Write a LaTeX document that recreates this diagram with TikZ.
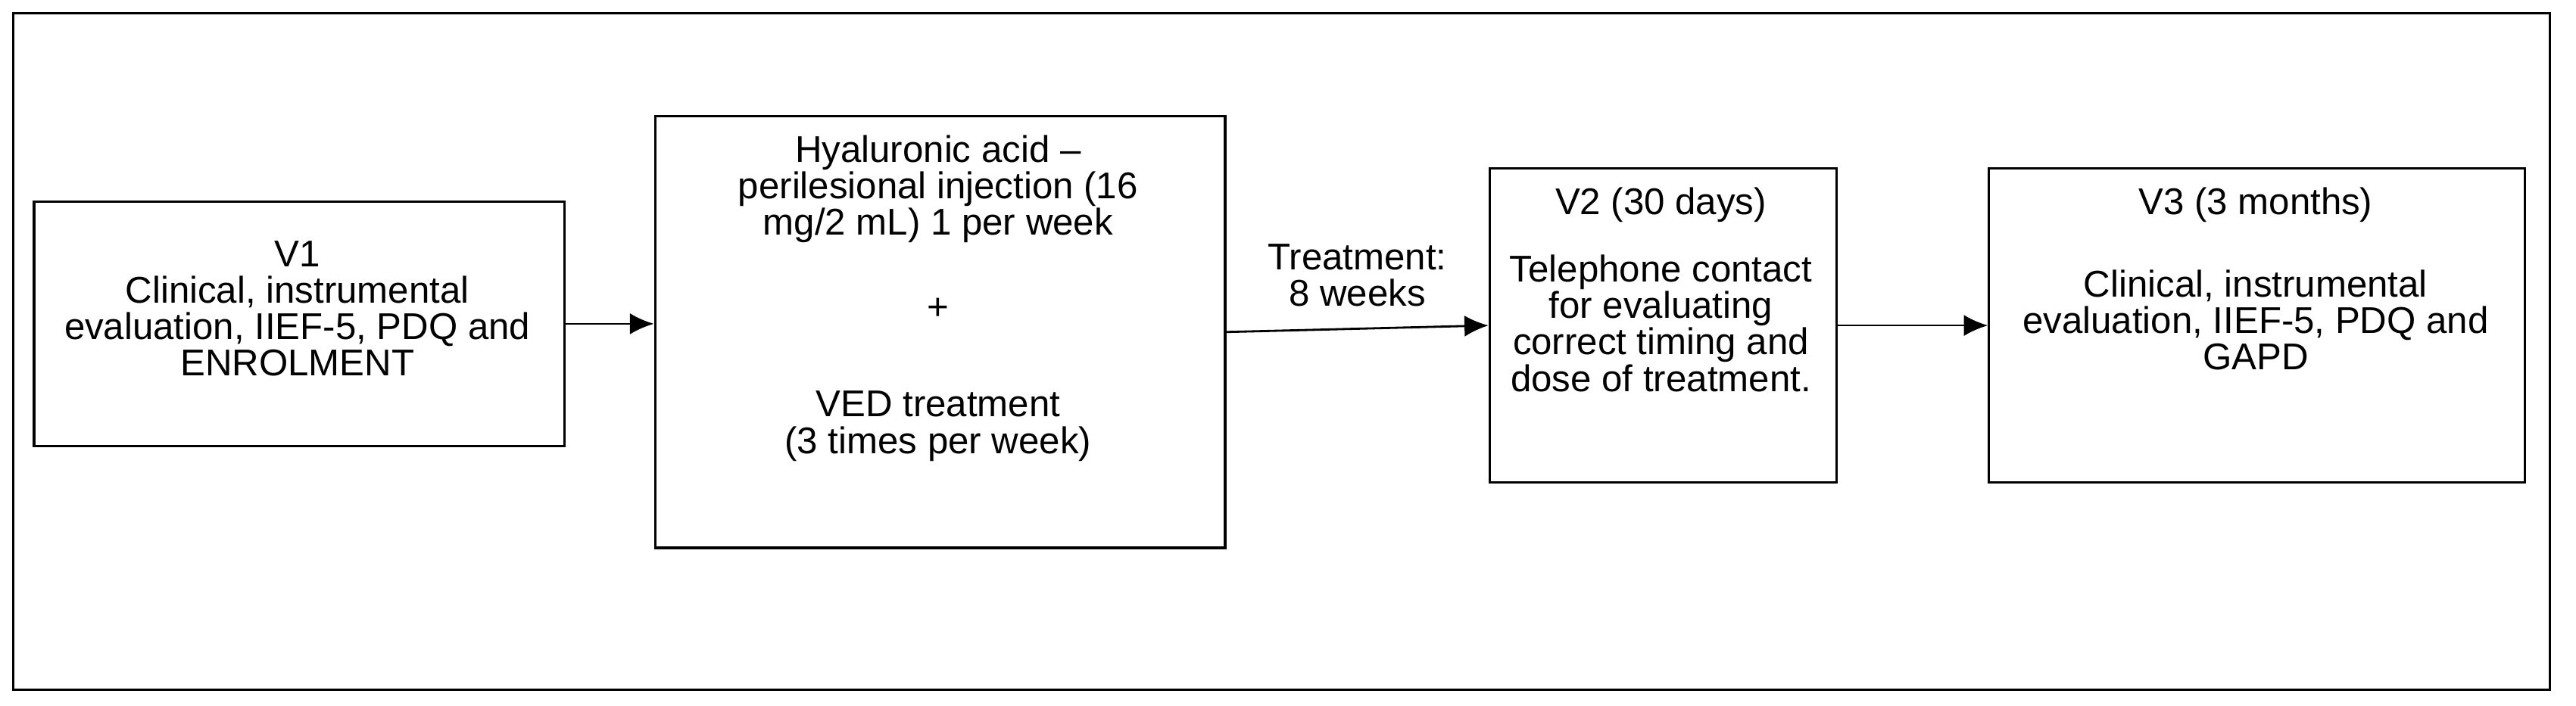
\documentclass[tikz,border=0pt]{standalone}
\usepackage{fontspec}
\setmainfont{Liberation Sans}
\usetikzlibrary{calc,arrows.meta}
\tikzset{
  box/.style={draw=black,line width=0.9pt,inner sep=0pt},
  txt/.style={align=center,font=\fontsize{14}{13.7}\selectfont,inner sep=0pt},
  arr/.style={-{Latex[length=9pt,width=8pt]},line width=0.8pt}
}
\begin{document}
\begin{tikzpicture}[x=0.0217cm,y=-0.0217cm]
        \useasboundingbox (0,0) rectangle (1568,430);
        %frame
        \draw[line width=0.9pt] (8,8) rectangle (1552,420);
        
        %boxes
        \node[box,anchor=north west,minimum width=323*0.0217cm,minimum height=149*0.0217cm] (v1) at (20,122) {};
        \node[box,anchor=north west,minimum width=347*0.0217cm,minimum height=263*0.0217cm] (ha) at (398,70) {};
        \node[box,anchor=north west,minimum width=211*0.0217cm,minimum height=191*0.0217cm] (v2) at (906,102) {};
        \node[box,anchor=north west,minimum width=326*0.0217cm,minimum height=191*0.0217cm] (v3) at (1210,102) {};
        
        %texts
        \node[txt] (v1t) at (181,188) {V1\\Clinical, instrumental\\evaluation, IIEF-5, PDQ and\\ENROLMENT};
        \node[txt,anchor=north] (hat1) at (571,82) {Hyaluronic acid --\\perilesional injection (16\\mg/2 mL) 1 per week};
        \node[txt] (hat2) at (571,188) {+};
        \node[txt,anchor=north] (hat3) at (571,238) {VED treatment\\(3 times per week)};
        \node[txt,anchor=north] (v2t1) at (1011,114) {V2 (30 days)};
        \node[txt,anchor=north] (v2t2) at (1011,155) {Telephone contact\\for evaluating\\correct timing and\\dose of treatment.};
        \node[txt,anchor=north] (v3t1) at (1373,114) {V3 (3 months)};
        \node[txt,anchor=north] (v3t2) at (1373,164) {Clinical, instrumental\\evaluation, IIEF-5, PDQ and\\GAPD};
        
        %arrows
        \draw[arr] (v1.east) -- (ha.west|-v1.east);
        \draw[arr] (ha.east) -- (v2.west) node[midway,above=8pt,txt] (tr) {Treatment:\\8 weeks};
        \draw[arr] (v2.east) -- (v3.west);
\end{tikzpicture}
\end{document}
